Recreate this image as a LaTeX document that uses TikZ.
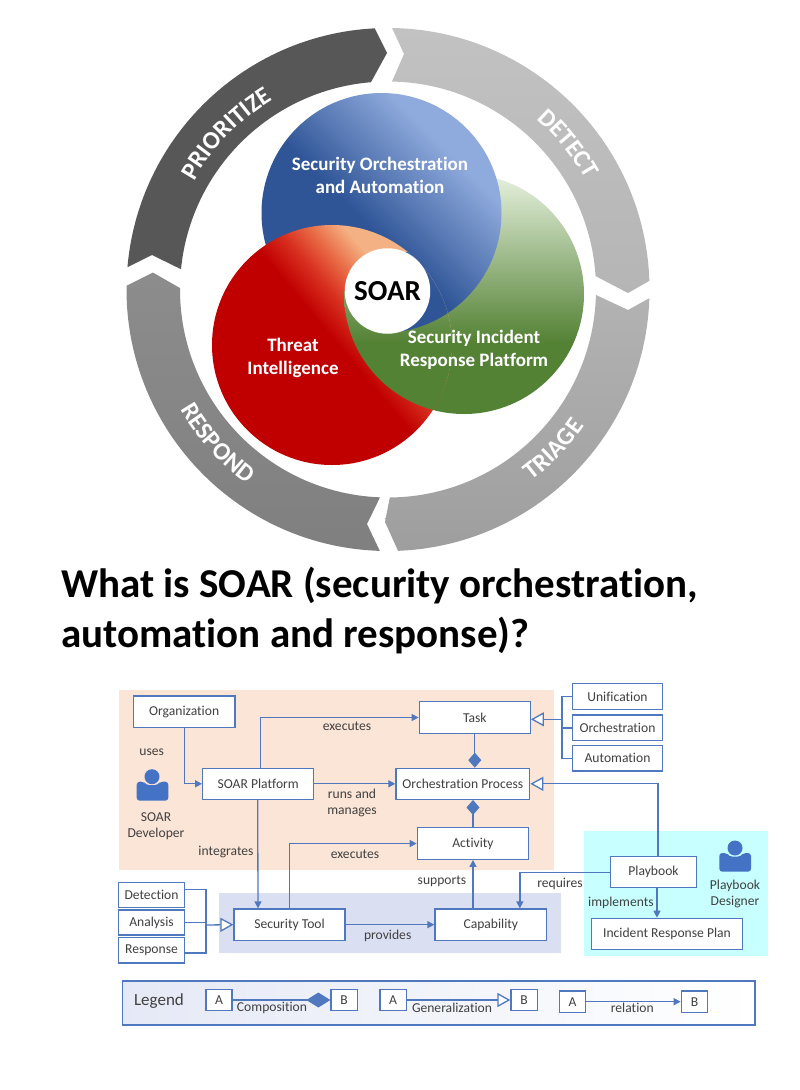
\documentclass[tikz,border=0pt]{standalone}
\usepackage{fontspec}
\setmainfont{Carlito}[Ligatures=NoCommon]
\usetikzlibrary{arrows.meta,decorations.text,calc}
\definecolor{blD}{HTML}{2F5597}\definecolor{blL}{HTML}{8FAADC}
\definecolor{grD}{HTML}{548235}\definecolor{grL}{HTML}{E6F1DE}
\definecolor{rdD}{HTML}{C00000}\definecolor{rdM}{HTML}{D83020}\definecolor{rdO}{HTML}{E86A45}\definecolor{rdL}{HTML}{F4B183}
\definecolor{lnC}{HTML}{4F78BE}\definecolor{txC}{HTML}{404040}
\definecolor{iconC}{HTML}{4472C4}
\definecolor{peach}{HTML}{FBE5D6}\definecolor{bandC}{HTML}{DAE0F2}\definecolor{cyanC}{HTML}{C8FFFF}
\pgfdeclareverticalshading{bluesh}{100bp}{color(0bp)=(blD);color(46bp)=(blD);color(69bp)=(blL);color(100bp)=(blL)}
\pgfdeclareverticalshading{greensh}{100bp}{color(0bp)=(grD);color(40bp)=(grD);color(75bp)=(grL);color(100bp)=(grL)}
\pgfdeclareverticalshading{redsh}{100bp}{color(0bp)=(rdD);color(51bp)=(rdD);color(57bp)=(rdM);color(62bp)=(rdO);color(67.8bp)=(rdL);color(100bp)=(rdL)}
\newcommand{\ringtext}{\fontsize{25}{25}\selectfont\bfseries\color{white}}
\newcommand{\circB}{(381.5,-213) circle[radius=120]}
\newcommand{\circG}{(464,-294) circle[radius=120]}
\newcommand{\circR}{(332,-345) circle[radius=120]}
\tikzset{
 x=1pt,y=1pt,
 box/.style={draw=lnC,line width=1.3pt,fill=white,inner sep=0pt,text=txC,font=\fontsize{13.6}{15}\selectfont},
 lbl/.style={text=txC,font=\fontsize{13.6}{16}\selectfont,inner sep=0pt,align=center},
 rel/.style={draw=lnC,line width=1.3pt,-{Triangle[length=7pt,width=7pt]}},
 plain/.style={draw=lnC,line width=1.3pt},
 gen/.style={draw=lnC,line width=1.3pt,-{Triangle[fill=white,length=13pt,width=14pt]}},
 comp/.style={draw=lnC,line width=1.3pt,-{Diamond[length=15pt,width=13pt]}},
 circtext/.style={text=white,font=\fontsize{19}{23}\selectfont\bfseries,inner sep=0pt,align=center},
 titletext/.style={text=black,font=\fontsize{41}{50}\selectfont\bfseries,inner sep=0pt,anchor=base west},
}
\newcommand{\bx}[6][]{\node[box,minimum width=#4pt-#3pt,minimum height=#6pt-#5pt,#1] (#2) at ({(#3+#4)/2},{-(#5+#6)/2}) {};}
\begin{document}
\begin{tikzpicture}
\useasboundingbox (0,0) rectangle (800,-1090);
\fill[white] (0,0) rectangle (800,-1090);
% ring
\begin{scope}[shift={(388,-289.5)}]
\shade[top color={black!66},bottom color={black!66}]
 (175.1:261.5) arc[start angle=175.1,end angle=92.9,radius=261.5] -- (-1,236.5) -- (94.7:208) arc[start angle=94.7,end angle=174.4,radius=208] -- (-236,34.5) -- cycle;
\shade[top color={black!24},bottom color={black!29}]
 (89.1:261.5) arc[start angle=89.1,end angle=1.9,radius=261.5] -- (240,-3.5) -- (3.7:208) arc[start angle=3.7,end angle=88.9,radius=208] -- (16,235.5) -- cycle;
\shade[top color={black!30},bottom color={black!38}]
 (-1.9:261.5) arc[start angle=-1.9,end angle=-87.8,radius=261.5] -- (-3,-232.5) -- (-89.5:208) arc[start angle=-89.5,end angle=-1.5,radius=208] -- (240,-20.5) -- cycle;
\shade[top color={black!45},bottom color={black!50}]
 (268.2:261.5) arc[start angle=268.2,end angle=179.2,radius=261.5] -- (-235,16.9) -- (179.6:208) arc[start angle=179.6,end angle=267.8,radius=208] -- (-21,-234.5) -- cycle;
\path[decorate,decoration={text along path,text align=center,text={|\ringtext|PRIORITIZE}}] (176:222) arc[start angle=176,end angle=96,radius=222];
\path[decorate,decoration={text along path,text align=center,text={|\ringtext|DETECT}}] (84:226) arc[start angle=84,end angle=-6,radius=226];
\path[decorate,decoration={text along path,text align=center,text={|\ringtext|TRIAGE}}] (-89:239) arc[start angle=-89,end angle=1,radius=239];
\path[decorate,decoration={text along path,text align=center,text={|\ringtext|RESPOND}}] (177:240) arc[start angle=177,end angle=267,radius=240];
\end{scope}
% overlapping discs: each one passes over the next, as a swirl round the centre
\shade[shading=greensh] \circG;
\shade[shading=bluesh,shading angle=-45] \circB;
\shade[shading=redsh,shading angle=-50] \circR;
\begin{scope}
\clip \circR;
\clip (300,-291) rectangle (500,-500);
\shade[shading=greensh] \circG;
\end{scope}
\begin{scope}
\clip \circR;
\clip (392,-252) rectangle (520,-500);
\shade[shading=bluesh,shading angle=-45] \circB;
\end{scope}
\node[circle,fill=white,minimum size=85.5pt,inner sep=0pt,text=black,font=\fontsize{29}{30}\selectfont\bfseries] (soar) at (387.5,-291) {SOAR};
\node[circtext] (so) at (380,-175) {Security Orchestration\\and Automation};
\node[circtext] (sirp) at (474,-350) {Security Incident\\Response Platform};
\node[circtext] (ti) at (293,-358) {Threat\\Intelligence};
% title
\node[titletext] (t1) at (61,-597) {What is SOAR (security orchestration,};
\node[titletext] (t2) at (61,-647) {automation and response)?};
% backgrounds
\fill[peach] (118.5,-690) rectangle (554,-870);
\fill[bandC] (219,-893) rectangle (561,-953);
\fill[cyanC] (584,-831) rectangle (768,-956);
% legend frame
\path[left color=bandC!70,right color=white,draw=lnC,line width=1.3pt] (122.7,-981) rectangle (755,-1025);
% boxes
\bx{org}{133.3}{235}{696}{727.3}
\bx{plat}{202.7}{313.7}{768.3}{799.3}
\bx{task}{419.3}{530.3}{701.7}{733.3}
\bx{orch}{396}{529.7}{768.3}{799.3}
\bx{act}{417.3}{528.7}{827.7}{859.3}
\bx{det}{118.3}{184.7}{882.3}{907.3}
\bx{ana}{118.3}{184.7}{910}{935}
\bx{res}{118.3}{184.7}{937.7}{963}
\bx{tool}{234}{345}{909}{940.3}
\bx{cap}{435}{546.7}{909}{940.3}
\bx{uni}{572.3}{662.7}{683.7}{709.3}
\bx{oro}{572.3}{662.7}{715}{740.7}
\bx{aut}{572.3}{662.7}{745.3}{771}
\bx{pb}{610.3}{696.7}{856.7}{887.7}
\bx{irp}{591.7}{742.3}{918.3}{949.7}
\bx{la}{206}{232}{989.3}{1010.7}
\bx{lb}{331}{357.3}{989.3}{1010.7}
\bx{lc}{380}{406.3}{989.3}{1010.7}
\bx{ld}{511}{537.3}{989.3}{1010.7}
\bx{le}{559.3}{585.7}{991}{1012.3}
\bx{lf}{681.3}{707.7}{991}{1012.3}
\node[lbl] at (org) {Organization};
\node[lbl] at (plat) {SOAR Platform};
\node[lbl] at (task) {Task};
\node[lbl] at (orch) {Orchestration Process};
\node[lbl] at (act) {Activity};
\node[lbl] at (det) {Detection};
\node[lbl] at (ana) {Analysis};
\node[lbl] at (res) {Response};
\node[lbl] at (tool) {Security Tool};
\node[lbl] at (cap) {Capability};
\node[lbl] at (uni) {Unification};
\node[lbl] at (oro) {Orchestration};
\node[lbl] at (aut) {Automation};
\node[lbl] at (pb) {Playbook};
\node[lbl] at (irp) {Incident Response Plan};
\node[lbl] at (la) {A};\node[lbl] at (lb) {B};\node[lbl] at (lc) {A};
\node[lbl] at (ld) {B};\node[lbl] at (le) {A};\node[lbl] at (lf) {B};
% junctions
\coordinate (jl) at (206,-925);
\coordinate (jr) at (562,-719.3);
% connectors
\draw[rel] (org.south) |- (plat.west);
\draw[rel] ($(plat.north)+(2.5,0)$) |- (task.west);
\draw[rel] (plat.east) -- (orch.west);
\draw[rel] ($(plat.south)+(-0.5,0)$) -- ($(tool.north)+(-31.5,0)$);
\draw[rel] (tool.north) |- (act.west);
\draw[rel] (tool.east) -- (cap.west);
\draw[rel] ($(cap.north)+(-18,0)$) -- (cap.north -| act.south) -- (act.south);
\draw[comp] (act.north) -- (act.north |- orch.south);
\draw[comp] (task.south) -- (task.south |- orch.north);
\draw[plain] (uni.west) -| (jr);
\draw[plain] (aut.west) -| (jr);
\draw[plain] (oro.west) -- (oro.west -| jr);
\draw[gen] (jr) -- (jr -| task.east);
\draw[gen] ($(pb.north)+(4.5,0)$) |- (orch.east);
\draw[rel] (pb.west) -| ($(cap.north)+(29,0)$);
\draw[rel] ($(pb.south)+(3.5,0)$) -- ($(pb.south |- irp.north)+(3.5,0)$);
\draw[plain] ($(det.east)+(0,5)$) -| (jl);
\draw[plain] ($(res.east)+(0,-2.5)$) -| (jl);
\draw[plain] (ana.east) -- (ana.east -| jl);
\draw[gen] (jl) -- (tool.west);
\draw[draw=lnC,line width=1.3pt,-{Diamond[length=24pt,width=15pt]}] (la.east) -- (lb.west);
\draw[gen] (lc.east) -- (ld.west);
\draw[rel] (le.east) -- (lf.west);
% connector labels
\node[lbl] (l1) at (347,-726) {executes};
\node[lbl] (l2) at (352,-802.5) {runs and\\manages};
\node[lbl] (l3) at (226,-852) {integrates};
\node[lbl] (l4) at (355,-854) {executes};
\node[lbl] (l5) at (387.7,-936) {provides};
\node[lbl] (l6) at (442,-881) {supports};
\node[lbl] (l7) at (560,-884) {requires};
\node[lbl] (l8) at (621,-902.7) {implements};
\node[lbl] (l9) at (151.7,-752.7) {uses};
\node[lbl] (l10) at (156,-826.5) {SOAR\\Developer};
\node[lbl] (l11) at (735,-894) {Playbook\\Designer};
\node[lbl,font=\fontsize{17}{18}\selectfont] (leg) at (159,-1001) {Legend};
\node[lbl] (l12) at (272,-1008.3) {Composition};
\node[lbl] (l13) at (452,-1008.3) {Generalization};
\node[lbl] (l14) at (632.3,-1008.3) {relation};
% actors
\fill[iconC] (152,-776.7) circle[radius=7.5];
\fill[iconC,rounded corners=3pt] (136.7,-781.7) -- (144,-781.7) -- (146,-785) -- (158,-785) -- (160,-781.7) -- (168.3,-781.7) -- (168.3,-800.7) -- (136.7,-800.7) -- cycle;
\fill[iconC] (735,-848) circle[radius=7.5];
\fill[iconC,rounded corners=3pt] (719.3,-853) -- (727,-853) -- (729,-856.5) -- (741,-856.5) -- (743,-853) -- (751,-853) -- (751,-871.7) -- (719.3,-871.7) -- cycle;
\end{tikzpicture}
\end{document}
